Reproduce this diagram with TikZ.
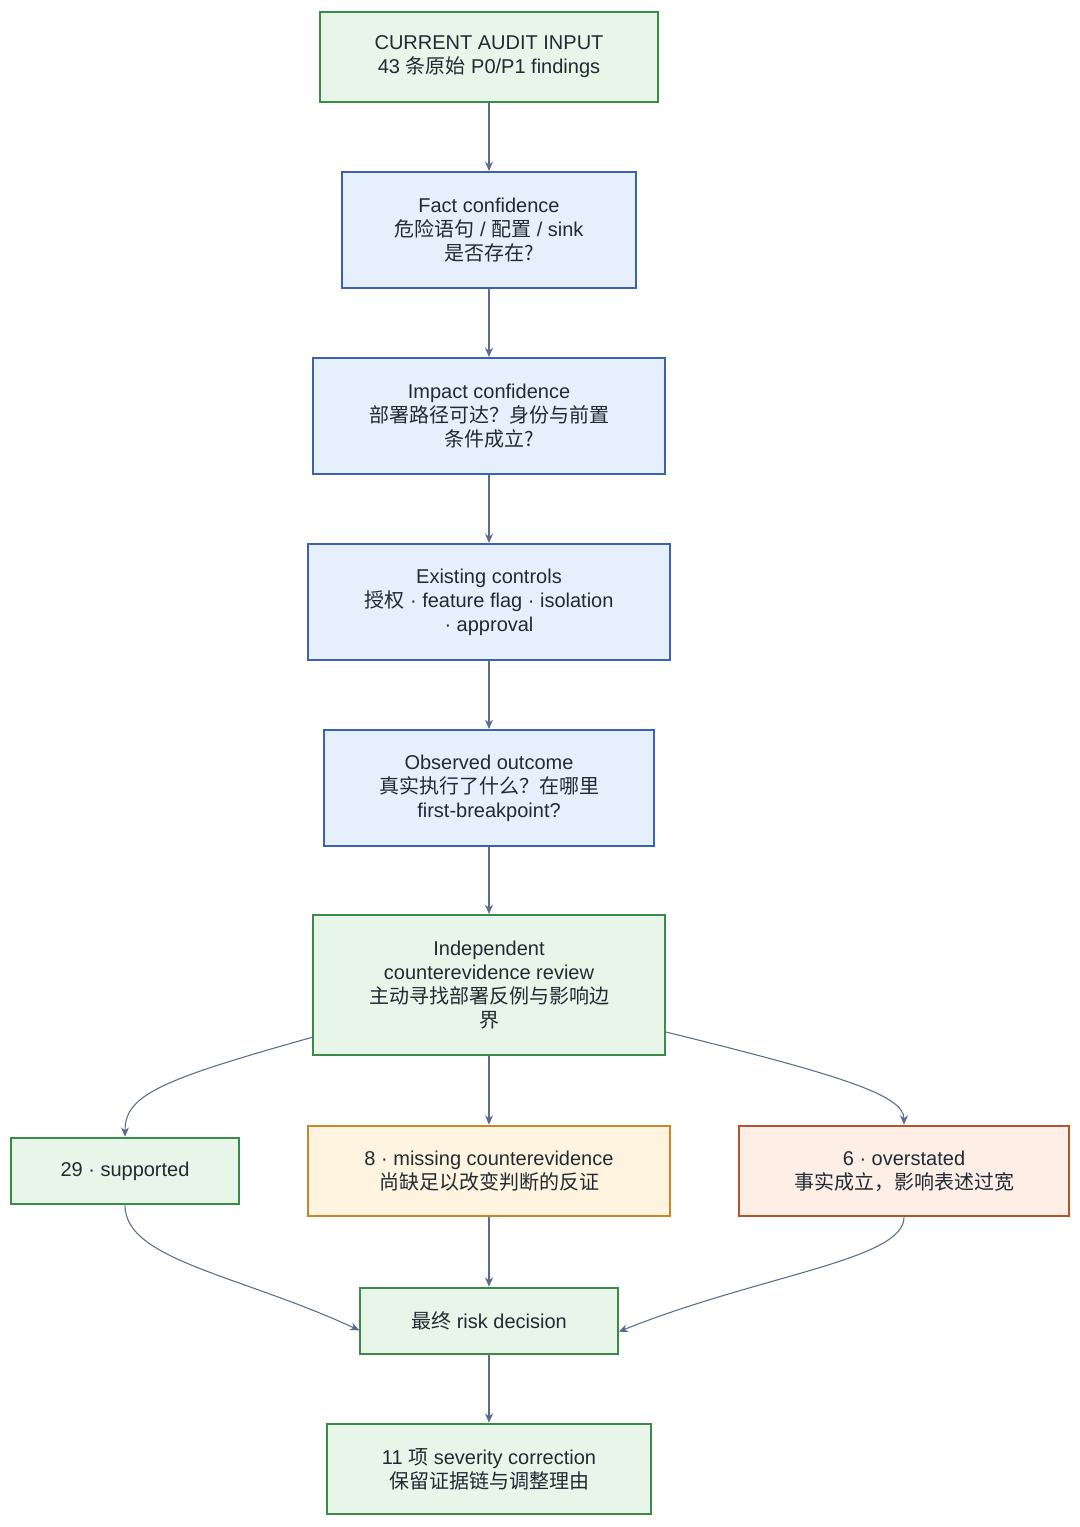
\documentclass[tikz,border=0pt]{standalone}
\usepackage{fontspec}
\setmainfont{Liberation Sans}
\newfontfamily\cjk{Noto Sans CJK SC}
\usetikzlibrary{arrows.meta}
\definecolor{gfill}{HTML}{E8F5E9}\definecolor{gline}{HTML}{3A8A48}
\definecolor{bfill}{HTML}{E6F0FD}\definecolor{bline}{HTML}{3A62B0}
\definecolor{ofill}{HTML}{FFF4E0}\definecolor{oline}{HTML}{C7862A}
\definecolor{rfill}{HTML}{FDEFE6}\definecolor{rline}{HTML}{B5532C}
\definecolor{edge}{HTML}{5A6B8C}\definecolor{ink}{HTML}{222A33}
\begin{document}
\begin{tikzpicture}[x=0.75pt, y=-0.75pt,
    box/.style={draw, line width=1.5pt, align=center, inner sep=0pt, text=ink,
        font=\fontsize{15}{18}\selectfont},
    green box/.style={box, fill=gfill, draw=gline},
    blue box/.style={box, fill=bfill, draw=bline},
    orange box/.style={box, fill=ofill, draw=oline},
    red box/.style={box, fill=rfill, draw=rline},
    flow/.style={draw=edge, line width=0.8pt, -{Stealth[length=7pt,width=6pt]}}
    ]
    \useasboundingbox (0,0) rectangle (1080,1527);
    \node [green box, minimum width=253pt, minimum height=68pt] (input) at (489,57)
        {CURRENT AUDIT INPUT\\43 {\cjk 条原始} P0/P1 findings};
    \node [blue box, minimum width=221pt, minimum height=87pt] (fact) at (489,230)
        {Fact confidence\\{\cjk 危险语句} / {\cjk 配置} / sink\\{\cjk 是否存在?}};
    \node [blue box, minimum width=264pt, minimum height=87pt] (impact) at (489,416)
        {Impact confidence\\{\cjk 部署路径可达？身份与前置}\\{\cjk 条件成立?}};
    \node [blue box, minimum width=271pt, minimum height=87pt] (controls) at (489,602)
        {Existing controls\\{\cjk 授权} · feature flag · isolation\\· approval};
    \node [blue box, minimum width=247pt, minimum height=87pt] (observed) at (489,788)
        {Observed outcome\\{\cjk 真实执行了什么？在哪里}\\first-breakpoint?};
    \node [green box, minimum width=264pt, minimum height=105pt] (review) at (489,985)
        {Independent\\counterevidence review\\{\cjk 主动寻找部署反例与影响边}\\{\cjk 界}};
    \node [green box, minimum width=171pt, minimum height=50pt] (supported) at (125,1171)
        {29 · supported};
    \node [orange box, minimum width=271pt, minimum height=68pt] (missing) at (489,1171)
        {8 · missing counterevidence\\{\cjk 尚缺足以改变判断的反证}};
    \node [red box, minimum width=247pt, minimum height=68pt] (overstated) at (904,1171)
        {6 · overstated\\{\cjk 事实成立，影响表述过宽}};
    \node [green box, minimum width=193pt, minimum height=50pt] (decision) at (489,1321)
        {{\cjk 最终} risk decision};
    \node [green box, minimum width=243pt, minimum height=68pt] (correction) at (489,1469)
        {11 {\cjk 项} severity correction\\{\cjk 保留证据链与调整理由}};
    % main column
    \draw [flow] (input) -- (fact);
    \draw [flow] (fact) -- (impact);
    \draw [flow] (impact) -- (controls);
    \draw [flow] (controls) -- (observed);
    \draw [flow] (observed) -- (review);
    \draw [flow] (review) -- (missing);
    \draw [flow] (missing) -- (decision);
    \draw [flow] (decision) -- (correction);
    % branches
    \draw [flow] ([yshift=14pt]review.south west) .. controls (160,1080) and (125,1095) .. (supported.north);
    \draw [flow] ([yshift=18pt]review.south east) .. controls (840,1075) and (904,1095) .. (overstated.north);
    \draw [flow] (supported.south) .. controls (125,1260) and (240,1275) .. ([yshift=-7pt]decision.west);
    \draw [flow] (overstated.south) .. controls (904,1260) and (760,1275) .. ([yshift=-8pt]decision.east);
\end{tikzpicture}
\end{document}
